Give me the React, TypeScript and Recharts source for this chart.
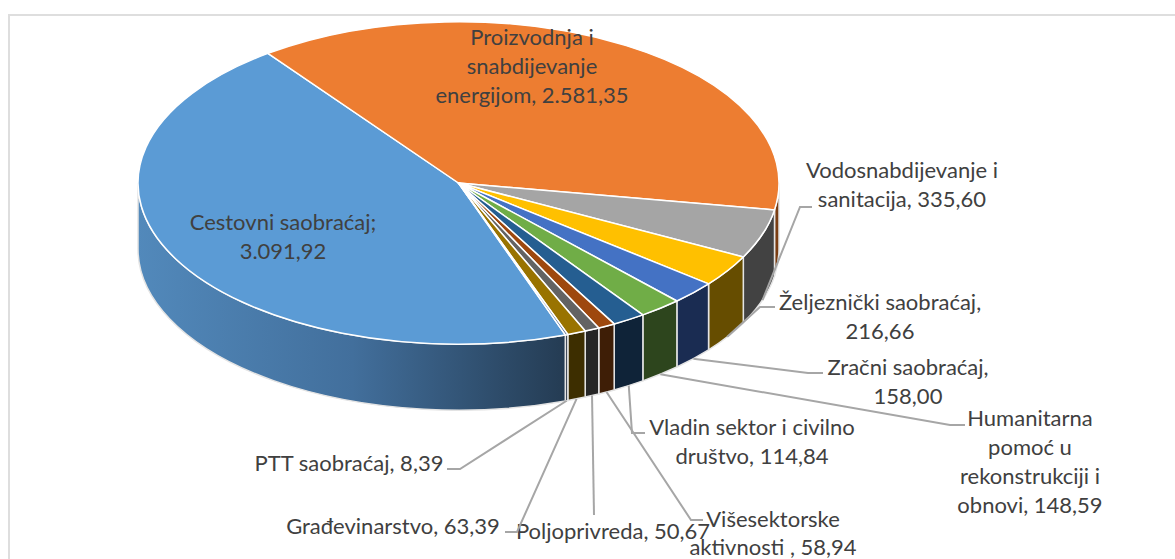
// Dependencies
import { PieChart, Pie } from 'recharts';

const categories = [
  'Cestovni saobraćaj',
  'Proizvodnja i snabdijevanje energijom',
  'Vodosnabdijevanje i sanitacija',
  'Željeznički saobraćaj',
  'Zračni saobraćaj',
  'Humanitarna pomoć u rekonstrukciji i obnovi',
  'Vladin sektor i civilno društvo',
  'Višesektorske aktivnosti',
  'Poljoprivreda',
  'Građevinarstvo',
  'PTT saobraćaj',
];
const values = [3091.92, 2581.35, 335.6, 216.66, 158.0, 148.59, 114.84, 58.94, 50.67, 63.39, 8.39];

const topColors = ['#5b9bd5', '#ed7d31', '#a5a5a5', '#ffc000', '#4472c4', '#70ad47', '#255e91', '#9e480e', '#636363', '#997300', '#264478'];
const wallColors = ['url(#roadWall)', '#7a3d12', '#424242', '#664d00', '#1a2c52', '#2d451d', '#0f2338', '#3e1e06', '#262626', '#3d2e00', '#0f1c30'];

const labelLines = [
  ['Cestovni saobraćaj;', '3.091,92'],
  ['Proizvodnja i', 'snabdijevanje', 'energijom, 2.581,35'],
  ['Vodosnabdijevanje i', 'sanitacija, 335,60'],
  ['Željeznički saobraćaj,', '216,66'],
  ['Zračni saobraćaj,', '158,00'],
  ['Humanitarna', 'pomoć u', 'rekonstrukciji i', 'obnovi, 148,59'],
  ['Vladin sektor i civilno', 'društvo, 114,84'],
  ['Višesektorske', 'aktivnosti , 58,94'],
  ['Poljoprivreda, 50,67'],
  ['Građevinarstvo, 63,39'],
  ['PTT saobraćaj, 8,39'],
];

// where each label sits, and the bends of its leader line
const labelPlace = [
  { x: 283, y: 221, gap: 29, bends: [] },
  { x: 532, y: 36, gap: 29, bends: [] },
  { x: 902, y: 169, gap: 29, bends: [[800, 207], [812, 207]] },
  { x: 880, y: 301, gap: 29, bends: [[760, 307], [775, 307]] },
  { x: 908, y: 366, gap: 29, bends: [[808, 373], [823, 373]] },
  { x: 1030, y: 417, gap: 29, bends: [[950, 425], [965, 425]] },
  { x: 752, y: 426, gap: 29, bends: [[632, 433], [645, 433]] },
  { x: 773, y: 518, gap: 28, bends: [[691, 520], [703, 520]] },
  { x: 613, y: 530, gap: 29, bends: [[594, 515]] },
  { x: 393, y: 525, gap: 29, bends: [[517, 532], [505, 532]] },
  { x: 349, y: 462, gap: 29, bends: [[460, 469], [447, 469]] },
];

const chartData = categories.map((name, i) => ({ name, value: values[i] }));

const SQUASH = 0.503;
const DEPTH = 66;
const FONT = 'Lato, sans-serif';

// clockwise from north, so the ellipse maths reads like the picture
const toBearing = (angle: number) => 90 - angle;

const edgePoint = (cx: number, cy: number, r: number, bearing: number) => {
  const rad = (bearing * Math.PI) / 180;
  return { x: cx + r * Math.sin(rad), y: cy - r * SQUASH * Math.cos(rad) };
};

const TopSlice = (props: any) => {
  const { cx, cy, outerRadius: r, startAngle, endAngle, index } = props;
  const a = toBearing(startAngle);
  const b = toBearing(endAngle);
  const p = edgePoint(cx, cy, r, a);
  const q = edgePoint(cx, cy, r, b);
  const large = b - a > 180 ? 1 : 0;
  return (
    <path
      d={`M${cx},${cy}L${p.x},${p.y}A${r},${r * SQUASH} 0 ${large} 1 ${q.x},${q.y}Z`}
      fill={topColors[index]}
      stroke="#fff"
      strokeWidth={1.5}
      strokeLinejoin="round"
    />
  );
};

const WallSlice = (props: any) => {
  const { cx, cy, outerRadius: r, startAngle, endAngle, index } = props;
  const span = startAngle - endAngle;
  const from = ((toBearing(startAngle) % 360) + 360) % 360;
  const to = from + span;

  // only the front half of the rim is visible
  let lo = 0;
  let hi = 0;
  for (const turn of [0, 360]) {
    lo = Math.max(from, 90 + turn);
    hi = Math.min(to, 270 + turn);
    if (lo < hi) break;
  }
  if (lo >= hi) return <g />;

  const p = edgePoint(cx, cy, r, lo);
  const q = edgePoint(cx, cy, r, hi);
  return (
    <g>
      {index === 0 && (
        <defs>
          <linearGradient id="roadWall" gradientUnits="userSpaceOnUse" x1={137} y1={0} x2={568} y2={0}>
            <stop offset="0%" stopColor="#5289bb" />
            <stop offset="50%" stopColor="#426f9c" />
            <stop offset="100%" stopColor="#243b52" />
          </linearGradient>
        </defs>
      )}
      <path
        d={`M${p.x},${p.y}A${r},${r * SQUASH} 0 0 1 ${q.x},${q.y}L${q.x},${q.y + DEPTH}A${r},${r * SQUASH} 0 0 0 ${p.x},${p.y + DEPTH}Z`}
        fill={wallColors[index]}
        stroke="#e4e4e4"
        strokeWidth={1.5}
      />
    </g>
  );
};

const SliceLabel = (props: any) => {
  const { index, cx, cy, outerRadius: r, midAngle } = props;
  const place = labelPlace[index];
  const anchor = edgePoint(cx, cy, r, toBearing(midAngle));
  const points = [[anchor.x, anchor.y + DEPTH], ...place.bends];
  return (
    <g>
      {place.bends.length > 0 && (
        <polyline points={points.map((pt) => pt.join(',')).join(' ')} fill="none" stroke="#a6a6a6" strokeWidth={2} />
      )}
      {labelLines[index].map((line, i) => (
        <text
          key={line}
          x={place.x}
          y={place.y + i * place.gap}
          textAnchor="middle"
          dominantBaseline="central"
          fill="#404040"
          fontSize={22}
          fontFamily={FONT}
        >
          {line}
        </text>
      ))}
    </g>
  );
};

const App = () => (
  <div style={{ position: 'fixed', left: 0, top: 0, width: 1175, height: 559, overflow: 'hidden', background: '#fff' }}>
    <div
      style={{
        position: 'absolute',
        left: 8,
        top: 14,
        right: -4,
        bottom: -4,
        border: '2px solid #dedede',
      }}
    />
    <div style={{ position: 'absolute', left: 0, top: 0 }}>
      <PieChart width={1175} height={559} margin={{ top: 0, right: 0, bottom: 0, left: 0 }}>
        <Pie
          data={chartData}
          dataKey="value"
          nameKey="name"
          cx={458.5}
          cy={183}
          outerRadius={320.5}
          startAngle={-70.5}
          endAngle={-430.5}
          isAnimationActive={false}
          shape={WallSlice}
        />
        <Pie
          data={chartData}
          dataKey="value"
          nameKey="name"
          cx={458.5}
          cy={183}
          outerRadius={320.5}
          startAngle={-70.5}
          endAngle={-430.5}
          isAnimationActive={false}
          shape={TopSlice}
          label={SliceLabel}
          labelLine={false}
        />
      </PieChart>
    </div>
  </div>
);

export default App;
